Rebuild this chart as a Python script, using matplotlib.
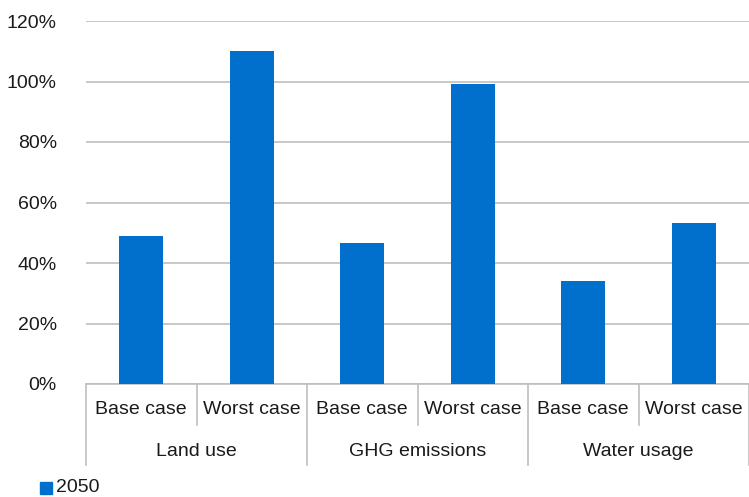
import matplotlib
matplotlib.use("Agg")
import matplotlib.pyplot as plt
from matplotlib.transforms import blended_transform_factory
from matplotlib.patches import Rectangle

groups = ["Land use", "GHG emissions", "Water usage"]
cases = ["Base case", "Worst case"]
values_2050 = [48.9, 110.0, 46.6, 99.1, 34.0, 53.2]
yticks = [0, 20, 40, 60, 80, 100, 120]
series_name = "2050"

bar_color = "#0070CC"
grid_color = "#BFBFBF"
text_color = "#1a1a1a"
font = ["Liberation Sans", "DejaVu Sans"]
plt.rcParams["font.family"] = font
fs = 14

W, H = 749, 497
fig = plt.figure(figsize=(W / 100, H / 100), dpi=100)
left, right, top, bottom = 86, 749, 21, 384
ax = fig.add_axes([left / W, (H - bottom) / H, (right - left) / W, (bottom - top) / H])

n = len(values_2050)
x = list(range(n))
ax.bar(x, values_2050, width=0.4, color=bar_color, zorder=3)
ax.set_xlim(-0.5, n - 0.5)
ax.set_ylim(0, 120)
ax.set_yticks(yticks)
ax.set_yticklabels([f"{v}%" for v in yticks], fontsize=fs, color=text_color)
ax.tick_params(axis="y", length=0, pad=21)
ax.set_xticks([])
for s in ["top", "right", "left"]:
    ax.spines[s].set_visible(False)
ax.spines["bottom"].set_color(grid_color)
ax.spines["bottom"].set_linewidth(1.2)
ax.yaxis.grid(True, color=grid_color, linewidth=1.2, zorder=0)
ax.set_axisbelow(True)

trans = blended_transform_factory(ax.transData, ax.transAxes)
ph = bottom - top
short_y = -(425 - bottom) / ph
long_y = -(465 - bottom) / ph
row1_y = -(410 - bottom) / ph
row2_y = -(451 - bottom) / ph

for i in range(n + 1):
    xb = i - 0.5
    yend = long_y if i % 2 == 0 else short_y
    ax.plot([xb, xb], [0, yend], color=grid_color, lw=1.2, transform=trans, clip_on=False)

for i in range(n):
    ax.text(i, row1_y, cases[i % 2], transform=trans, ha="center", va="center",
            fontsize=fs, color=text_color)
for g, name in enumerate(groups):
    ax.text(2 * g + 0.5, row2_y, name, transform=trans, ha="center", va="center",
            fontsize=fs, color=text_color)

# legend
fig.patches.append(Rectangle((40 / W, (H - 494) / H), 12 / W, 12 / H,
                             transform=fig.transFigure, color=bar_color))
fig.text(56 / W, (H - 488) / H, series_name, ha="left", va="center", fontsize=fs, color=text_color)

fig.savefig("out.png", dpi=100)
